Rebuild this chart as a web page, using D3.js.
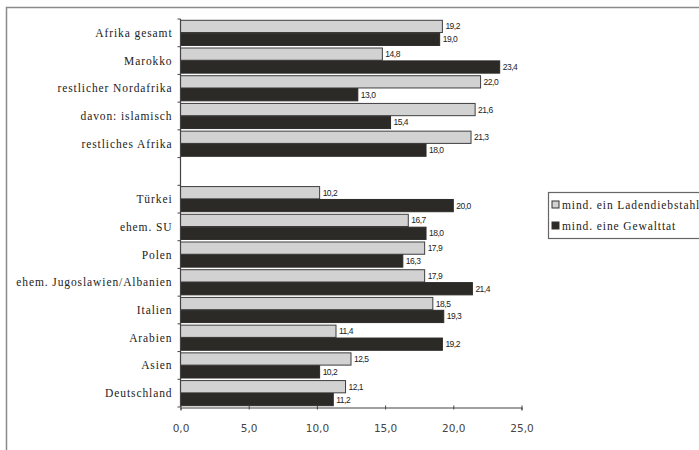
<!DOCTYPE html>
<html>
<head>
<meta charset="utf-8">
<script src="https://cdn.jsdelivr.net/npm/d3@7"></script>
<style>
body { margin: 0; background: #fff; }
svg { display: block; }
</style>
</head>
<body>
<div id="chart"></div>
<script>
// categories top to bottom, "" = empty slot between Afrika and the rest
var categories = ["Afrika gesamt", "Marokko", "restlicher Nordafrika", "davon: islamisch", "restliches Afrika", "",
    "Türkei", "ehem. SU", "Polen", "ehem. Jugoslawien/Albanien", "Italien", "Arabien", "Asien", "Deutschland"];
var seriesNames = ["mind. ein Ladendiebstahl", "mind. eine Gewalttat"];
var ladendiebstahl = [19.2, 14.8, 22.0, 21.6, 21.3, null, 10.2, 16.7, 17.9, 17.9, 18.5, 11.4, 12.5, 12.1];
var gewalttat = [19.0, 23.4, 13.0, 15.4, 18.0, null, 20.0, 18.0, 16.3, 21.4, 19.3, 19.2, 10.2, 11.2];
var xTicks = [0, 5, 10, 15, 20, 25];

var width = 699, height = 450;
var fills = ["#d2d2d2", "#2c2a27"];
var serif = "'Liberation Serif', 'Times New Roman', serif";

var svg = d3.select("#chart").append("svg").attr("width", width).attr("height", height);

// outer frame (only top and left edge visible)
svg.append("path").attr("d", "M6.5,450V7.5H699")
    .attr("fill", "none").attr("stroke", "#8a8a8a").attr("stroke-width", 1.5);

var x = d3.scaleLinear().domain([0, 25]).range([180.5, 521.5]);
var keys = categories.map(function(c, i) { return "k" + i; });
var y = d3.scaleBand().domain(keys).range([19, 407]);
var y1 = d3.scaleBand().domain([0, 1]).range([0, y.bandwidth()]).paddingOuter(0.1).paddingInner(0.05);

var rows = categories.map(function(c, i) {
    return { key: keys[i], name: c, vals: [ladendiebstahl[i], gewalttat[i]] };
});

var g = svg.append("g");

rows.forEach(function(r) {
    r.vals.forEach(function(v, s) {
        if (v == null) return;
        var yy = y(r.key) + y1(s);
        g.append("rect")
            .attr("x", x(0)).attr("y", yy)
            .attr("width", x(v) - x(0)).attr("height", y1.bandwidth())
            .attr("fill", fills[s])
            .attr("stroke", s === 0 ? "#3e3e3e" : "#2c2a27").attr("stroke-width", 1);
        g.append("text")
            .attr("x", x(v) + 3).attr("y", yy + y1.bandwidth() / 2)
            .attr("dy", "0.35em")
            .style("font-family", "'Liberation Sans Narrow', 'Arial Narrow', sans-serif")
            .style("font-size", "8.5px").style("letter-spacing", "-0.5px").attr("fill", "#222")
            .text(d3.format(".1f")(v).replace(".", ","));
    });
});

// y axis
var yAxis = svg.append("g").attr("transform", "translate(180.5,0)");
yAxis.append("line").attr("y1", 19).attr("y2", 407).attr("stroke", "#444").attr("stroke-width", 1.2);
keys.concat(["end"]).forEach(function(k, i) {
    var yy = i < keys.length ? y(k) : 407;
    yAxis.append("line").attr("x1", -3).attr("x2", 0).attr("y1", yy).attr("y2", yy).attr("stroke", "#444");
});
rows.forEach(function(r) {
    if (!r.name) return;
    yAxis.append("text")
        .attr("x", -8).attr("y", y(r.key) + y.bandwidth() / 2).attr("dy", "0.35em")
        .attr("text-anchor", "end")
        .style("font-family", serif)
        .style("font-size", "11.5px").style("letter-spacing", "0.9px").attr("fill", "#222")
        .text(r.name);
});

// x axis
var xAxis = svg.append("g").attr("transform", "translate(0,407.5)")
    .call(d3.axisBottom(x).tickValues(xTicks).tickSize(3).tickFormat(function(d) {
        return d3.format(".1f")(d).replace(".", ",");
    }));
xAxis.select(".domain").attr("stroke", "#444").attr("stroke-width", 1.2);
xAxis.selectAll(".tick line").attr("stroke", "#444").attr("y1", -2).attr("y2", 2);
xAxis.selectAll(".tick text")
    .attr("y", 17)
    .style("font-family", "'DejaVu Sans', sans-serif")
    .style("font-size", "10.5px").attr("fill", "#444");

// legend
var leg = svg.append("g").attr("transform", "translate(548,192)");
leg.append("rect").attr("x", 0.5).attr("y", 0.5).attr("width", 170).attr("height", 46)
    .attr("fill", "#fff").attr("stroke", "#666").attr("stroke-width", 1.2);
seriesNames.forEach(function(n, i) {
    var row = leg.append("g").attr("transform", "translate(4," + (13 + i * 21) + ")");
    row.append("rect").attr("x", 0).attr("y", -4).attr("width", 7).attr("height", 7)
        .attr("fill", fills[i]).attr("stroke", "#333");
    row.append("text").attr("x", 10).attr("y", 0).attr("dy", "0.35em")
        .style("font-family", serif)
        .style("font-size", "11.5px").style("letter-spacing", "0.9px").attr("fill", "#222")
        .text(n);
});
</script>
</body>
</html>
